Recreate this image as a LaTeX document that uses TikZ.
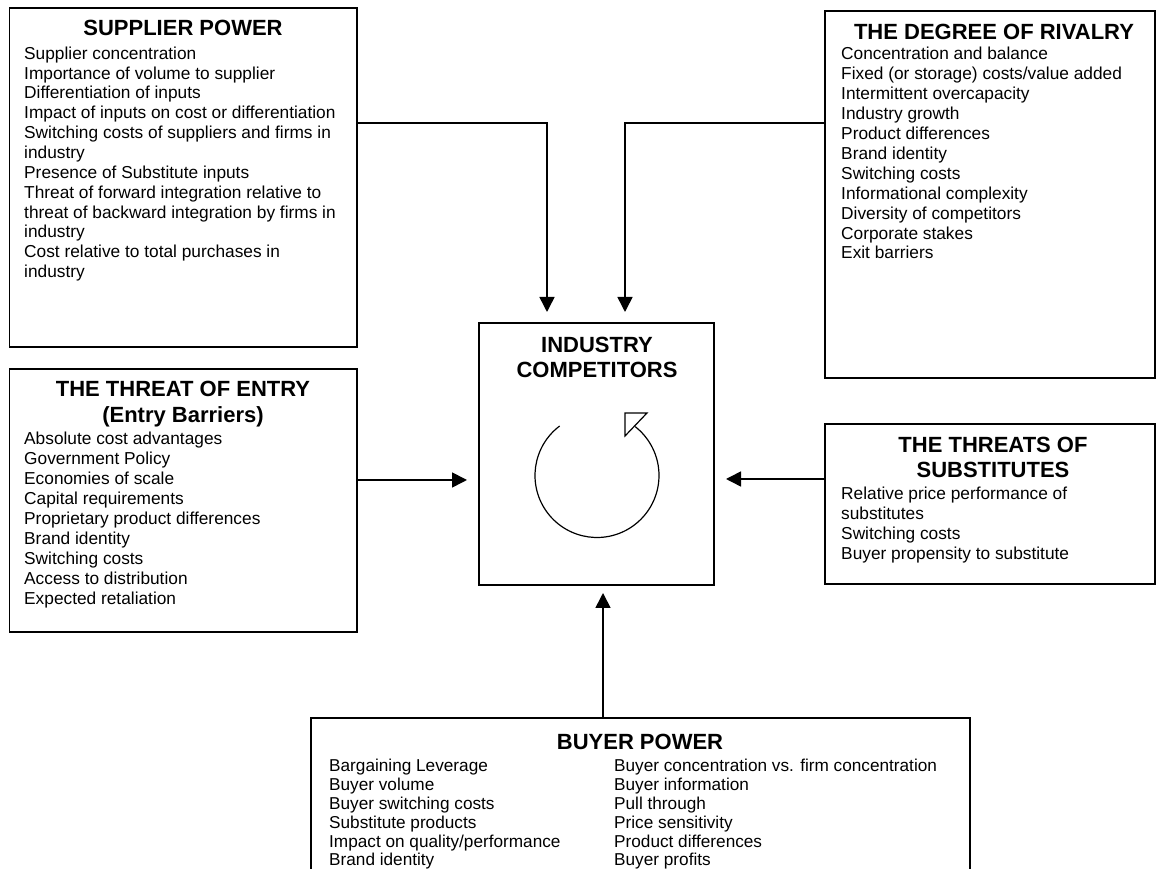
\documentclass[tikz,border=0pt]{standalone}
\usepackage{fontspec}
\setmainfont{Liberation Sans}
\usetikzlibrary{arrows.meta,calc}
\begin{document}
\begin{tikzpicture}[x=1pt,y=1pt]
\tikzset{
  box/.style={draw=black, line width=1.8pt, fill=white, inner sep=0pt, outer sep=0pt},
  head/.style={font=\fontsize{22}{25}\selectfont\bfseries, anchor=base, inner sep=0pt},
  item/.style={font=\fontsize{17.3}{20}\selectfont, anchor=base west, inner sep=0pt},
  bitem/.style={font=\fontsize{17.2}{19}\selectfont, anchor=base west, inner sep=0pt},
  conn/.style={line width=1.6pt, -{Triangle[length=15pt,width=15pt]}},
  cycle/.style={line width=1.2pt},
}
\useasboundingbox (0,0) rectangle (1156,869);
\fill[white] (0,0) rectangle (1156,869);
\clip (0,0) rectangle (1156,869);

% the five forces and the central box
\node[box, minimum width=347.5pt, minimum height=339pt] (sup) at (183.25,691.5) {};
\node[box, minimum width=330pt, minimum height=367pt] (riv) at (990,674.5) {};
\node[box, minimum width=235pt, minimum height=262pt] (comp) at (596.5,415) {};
\node[box, minimum width=347.5pt, minimum height=263pt] (ent) at (183.25,368.5) {};
\node[box, minimum width=330pt, minimum height=160pt] (sub) at (990,365) {};
\node[box, minimum width=659pt, minimum height=242pt] (buy) at (640.5,30) {};

% connectors
\draw[conn, shorten >=11pt] ($(sup.north east)+(0,-115)$) coordinate (supOut)
  -| ($(comp.north)+(-49.5,0)$);
\draw[conn, shorten >=11pt] ($(riv.north west)+(0,-112)$) coordinate (rivOut)
  -| ($(comp.north)+(28.5,0)$);
\draw[conn, shorten >=12pt] ($(ent.east)+(0,20.5)$) coordinate (entOut)
  -- (entOut -| comp.west);
\draw[conn, shorten >=12pt] ($(sub.west)+(0,25)$) coordinate (subOut)
  -- (subOut -| comp.east);
\draw[conn, shorten >=8pt] ($(buy.north)+(-37.5,0)$) coordinate (buyOut)
  -- (buyOut |- comp.south);

% headings
\node[head] (supT) at (183,833) {SUPPLIER POWER};
\node[head] (rivT) at (994,829) {THE DEGREE OF RIVALRY};
\node[head] (compT1) at (597,516) {INDUSTRY};
\node[head] (compT2) at (597,491) {COMPETITORS};
\node[head] (entT1) at (183,472) {THE THREAT OF ENTRY};
\node[head] (entT2) at (183,446) {(Entry Barriers)};
\node[head] (subT1) at (993,416) {THE THREATS OF};
\node[head] (subT2) at (993,391) {SUBSTITUTES};
\node[head] (buyT) at (640,119) {BUYER POWER};

% item lists
\foreach \t [count=\i] in {Supplier concentration, Importance of volume to supplier,
  Differentiation of inputs, Impact of inputs on cost or differentiation,
  Switching costs of suppliers and firms in, industry, Presence of Substitute inputs,
  Threat of forward integration relative to, threat of backward integration by firms in,
  industry, Cost relative to total purchases in, industry}
  \node[item] (supL\i) at (24,{809.7-(\i-1)*19.85}) {\t};

\foreach \t [count=\i] in {Concentration and balance, Fixed (or storage) costs/value added,
  Intermittent overcapacity, Industry growth, Product differences, Brand identity,
  Switching costs, Informational complexity, Diversity of competitors,
  Corporate stakes, Exit barriers}
  \node[item] (rivL\i) at (841,{809-(\i-1)*19.9}) {\t};

\foreach \t [count=\i] in {Absolute cost advantages, Government Policy, Economies of scale,
  Capital requirements, Proprietary product differences, Brand identity,
  Switching costs, Access to distribution, Expected retaliation}
  \node[item] (entL\i) at (24,{424-(\i-1)*19.9}) {\t};

\foreach \t [count=\i] in {Relative price performance of, substitutes, Switching costs,
  Buyer propensity to substitute}
  \node[item] (subL\i) at (841,{369-(\i-1)*20}) {\t};

\foreach \t [count=\i] in {Bargaining Leverage, Buyer volume, Buyer switching costs,
  Substitute products, Impact on quality/performance, Brand identity}
  \node[bitem] (buyL\i) at (329,{97-(\i-1)*18.8}) {\t};

\foreach \t [count=\i] in {Buyer concentration vs. firm concentration, Buyer information,
  Pull through, Price sensitivity, Product differences, Buyer profits}
  \node[bitem] (buyR\i) at (614,{97-(\i-1)*18.8}) {\t};

% rivalry cycle inside the central box
\coordinate (cyc) at (597,393.5);
\draw[cycle] ($(cyc)+(127:62)$) arc[start angle=127, end angle=412, radius=62];
\draw[cycle, fill=white] ($(cyc)+(28,62.5)$) coordinate (tipA) -- ++(22,0)
  -- ($(cyc)+(28,39.5)$) -- cycle;
\end{tikzpicture}
\end{document}
